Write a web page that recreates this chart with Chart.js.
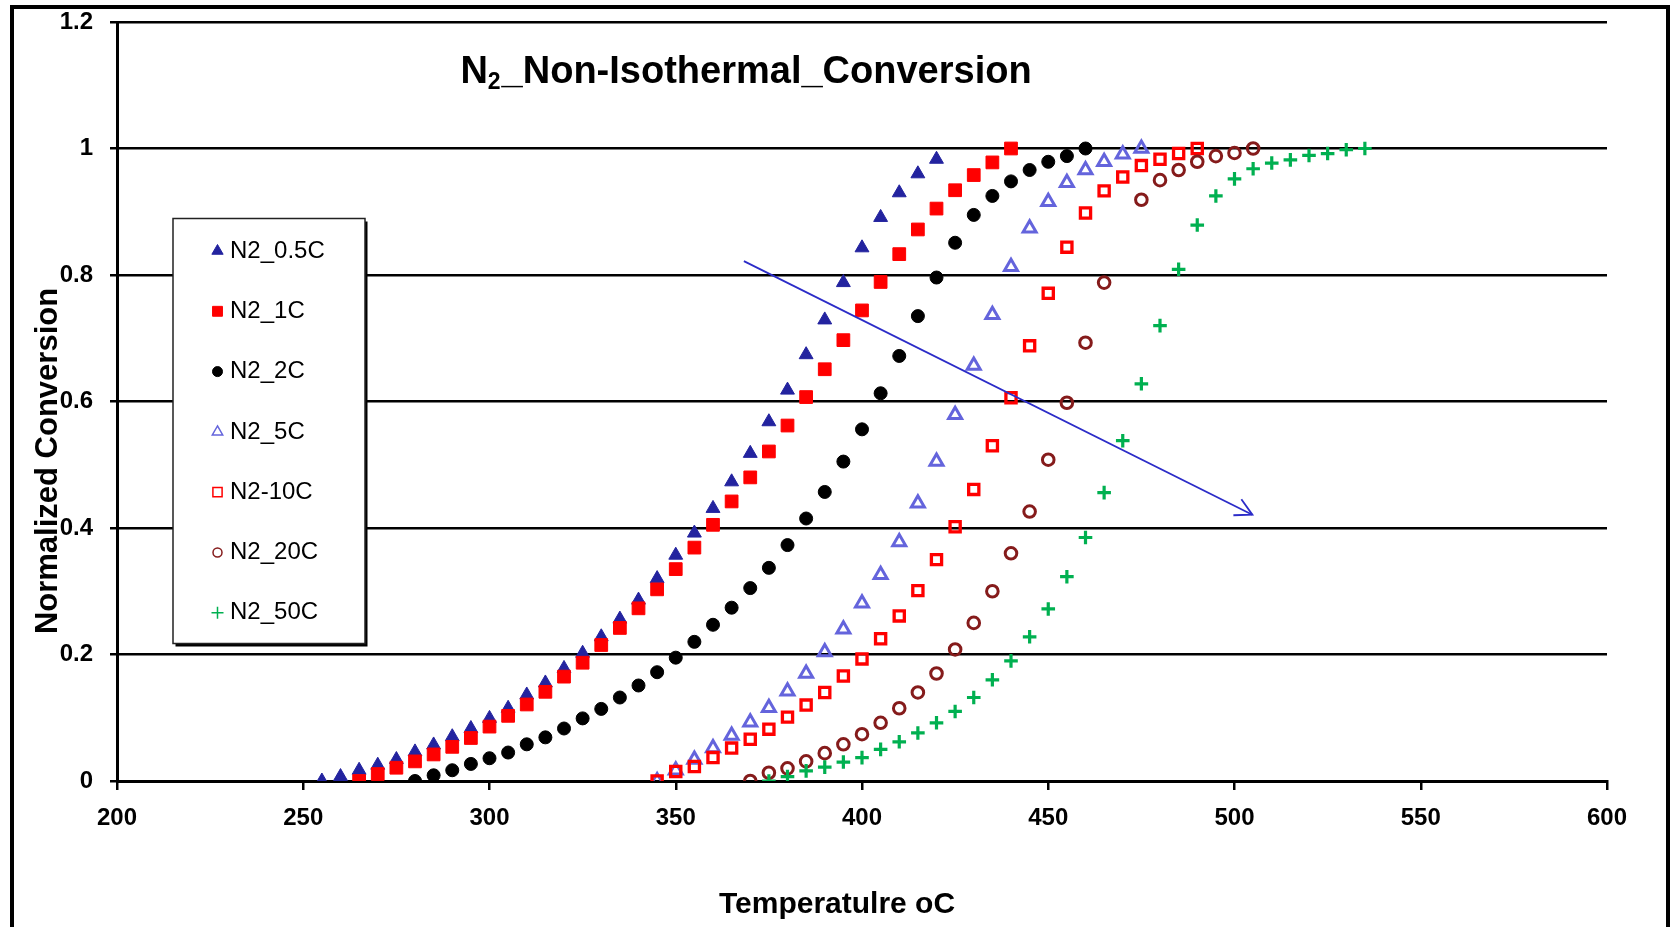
<!DOCTYPE html>
<html>
<head>
<meta charset="utf-8">
<script src="https://cdn.jsdelivr.net/npm/chart.js@4/dist/chart.umd.min.js"></script>
<style>
  html, body { margin: 0; padding: 0; background: #ffffff; }
  canvas { display: block; }
</style>
</head>
<body>
<canvas id="c" width="1671" height="927" style="width:1671px;height:927px"></canvas>
<script>
// ---------------- DATA ----------------
const seriesNames = ['N2_0.5C', 'N2_1C', 'N2_2C', 'N2_5C', 'N2-10C', 'N2_20C', 'N2_50C'];

const temp05 = [255,260,265,270,275,280,285,290,295,300,305,310,315,320,325,330,335,340,345,350,355,360,365,370,375,380,385,390,395,400,405,410,415,420];
const conv05 = [0.000,0.007,0.017,0.025,0.034,0.046,0.057,0.070,0.083,0.099,0.115,0.136,0.155,0.178,0.202,0.228,0.256,0.286,0.320,0.357,0.392,0.431,0.473,0.518,0.568,0.618,0.674,0.729,0.788,0.843,0.891,0.930,0.960,0.983];

const temp1 = [265,270,275,280,285,290,295,300,305,310,315,320,325,330,335,340,345,350,355,360,365,370,375,380,385,390,395,400,405,410,415,420,425,430,435,440];
const conv1 = [0.000,0.011,0.021,0.031,0.042,0.054,0.068,0.086,0.103,0.121,0.141,0.165,0.187,0.215,0.242,0.273,0.303,0.335,0.369,0.405,0.442,0.480,0.521,0.562,0.607,0.651,0.697,0.744,0.789,0.833,0.872,0.905,0.934,0.958,0.978,1.000];

const temp2 = [280,285,290,295,300,305,310,315,320,325,330,335,340,345,350,355,360,365,370,375,380,385,390,395,400,405,410,415,420,425,430,435,440,445,450,455,460];
const conv2 = [0.000,0.009,0.017,0.027,0.036,0.045,0.058,0.069,0.083,0.099,0.114,0.132,0.151,0.172,0.195,0.220,0.247,0.274,0.305,0.337,0.373,0.415,0.457,0.505,0.556,0.613,0.672,0.735,0.796,0.851,0.895,0.925,0.948,0.966,0.979,0.988,1.000];

const temp5 = [345,350,355,360,365,370,375,380,385,390,395,400,405,410,415,420,425,430,435,440,445,450,455,460,465,470,475];
const conv5 = [0.000,0.017,0.034,0.052,0.072,0.093,0.116,0.142,0.170,0.204,0.240,0.281,0.326,0.378,0.439,0.505,0.579,0.657,0.737,0.813,0.874,0.916,0.946,0.966,0.979,0.991,1.000];

const temp10 = [345,350,355,360,365,370,375,380,385,390,395,400,405,410,415,420,425,430,435,440,445,450,455,460,465,470,475,480,485,490];
const conv10 = [0.000,0.015,0.023,0.037,0.052,0.066,0.082,0.101,0.120,0.140,0.166,0.193,0.225,0.261,0.301,0.350,0.402,0.461,0.530,0.606,0.688,0.771,0.844,0.898,0.933,0.955,0.973,0.983,0.992,1.000];

const temp20 = [370,375,380,385,390,395,400,405,410,415,420,425,430,435,440,445,450,455,460,465,475,480,485,490,495,500,505];
const conv20 = [0.000,0.013,0.020,0.031,0.044,0.058,0.074,0.092,0.115,0.140,0.170,0.208,0.250,0.300,0.360,0.426,0.508,0.598,0.693,0.788,0.919,0.950,0.966,0.979,0.988,0.993,1.000];

const temp50 = [375,380,385,390,395,400,405,410,415,420,425,430,435,440,445,450,455,460,465,470,475,480,485,490,495,500,505,510,515,520,525,530,535];
const conv50 = [0.000,0.007,0.016,0.022,0.030,0.037,0.050,0.062,0.076,0.092,0.110,0.132,0.160,0.190,0.228,0.272,0.323,0.385,0.456,0.538,0.628,0.720,0.809,0.879,0.925,0.952,0.968,0.977,0.982,0.989,0.992,0.998,1.000];

// annotation arrow (temperature, conversion)
const arrowTemp = [368.3, 504.8];
const arrowConv = [0.822, 0.421];

const yTickLabels = ['0', '0.2', '0.4', '0.6', '0.8', '1', '1.2'];
const xTickLabels = ['200', '250', '300', '350', '400', '450', '500', '550', '600'];

const titleMain = 'N';
const titleSub = '2';
const titleRest = '_Non-Isothermal_Conversion';
const xTitle = 'Temperatulre oC';
const yTitle = 'Normalized Conversion';

// ---------------- BUILD ----------------
function pts(xs, ys) { return xs.map((x, i) => ({ x: x, y: ys[i] })); }

const COL_NAVY = '#23239f';
const COL_RED = '#ff0000';
const COL_BLACK = '#000000';
const COL_LBLUE = '#6464dc';
const COL_MAROON = '#851b1b';
const COL_GREEN = '#00b050';
const COL_ARROW = '#2c2cc8';

const styles = [
  { ps: 'triangle', r: 8, bg: COL_NAVY, bc: COL_NAVY, bw: 1, lr: 6.5, lbw: 1 },
  { ps: 'rect', r: 9, bg: COL_RED, bc: COL_RED, bw: 1, lr: 7, lbw: 1 },
  { ps: 'circle', r: 6.5, bg: COL_BLACK, bc: COL_BLACK, bw: 1, lr: 5, lbw: 1 },
  { ps: 'triangle', r: 7.5, bg: 'rgba(0,0,0,0)', bc: COL_LBLUE, bw: 3, lr: 6, lbw: 1.5 },
  { ps: 'rect', r: 7.2, bg: 'rgba(0,0,0,0)', bc: COL_RED, bw: 3.3, lr: 6.5, lbw: 1.5 },
  { ps: 'circle', r: 5.8, bg: 'rgba(0,0,0,0)', bc: COL_MAROON, bw: 3, lr: 4.5, lbw: 1.5 },
  { ps: 'cross', r: 6.8, bg: COL_GREEN, bc: COL_GREEN, bw: 3.2, lr: 6, lbw: 1.5 }
];

const allTemps = [temp05, temp1, temp2, temp5, temp10, temp20, temp50];
const allConvs = [conv05, conv1, conv2, conv5, conv10, conv20, conv50];

const datasets = seriesNames.map((name, i) => ({
  label: name,
  data: pts(allTemps[i], allConvs[i]),
  showLine: false,
  pointStyle: styles[i].ps,
  pointRadius: styles[i].r,
  pointHoverRadius: styles[i].r,
  pointBackgroundColor: styles[i].bg,
  pointBorderColor: styles[i].bc,
  pointBorderWidth: styles[i].bw,
  backgroundColor: styles[i].bg,
  borderColor: styles[i].bc,
  order: 10 - i
}));

datasets.push({
  label: '_arrow',
  data: pts(arrowTemp, arrowConv),
  showLine: true,
  borderColor: COL_ARROW,
  borderWidth: 1.8,
  pointRadius: 0,
  fill: false,
  order: 0
});

const FONT = "'Liberation Sans', Arial, Helvetica, sans-serif";

function drawMarker(c, st, x, y, r, bw) {
  c.save();
  c.fillStyle = st.bg;
  c.strokeStyle = st.bc;
  c.lineWidth = bw;
  if (Chart.helpers && Chart.helpers.drawPoint) {
    Chart.helpers.drawPoint(c, { pointStyle: st.ps, radius: r, rotation: 0, borderWidth: bw }, x, y);
  } else {
    c.beginPath();
    if (st.ps === 'circle') c.arc(x, y, r, 0, Math.PI * 2);
    else if (st.ps === 'rect') { const s = r * Math.SQRT1_2; c.rect(x - s, y - s, 2 * s, 2 * s); }
    else if (st.ps === 'triangle') { c.moveTo(x, y - r); c.lineTo(x + r * 0.866, y + r / 2); c.lineTo(x - r * 0.866, y + r / 2); c.closePath(); }
    else if (st.ps === 'cross') { c.moveTo(x - r, y); c.lineTo(x + r, y); c.moveTo(x, y - r); c.lineTo(x, y + r); }
    c.fill(); c.stroke();
  }
  c.restore();
}

const decorPlugin = {
  id: 'decor',
  beforeDraw(chart) {
    const c = chart.ctx;
    c.save();
    c.fillStyle = '#ffffff';
    c.fillRect(0, 0, chart.width, chart.height);
    c.restore();
  },
  afterDatasetsDraw(chart) {
    const c = chart.ctx;
    // arrow head
    const meta = chart.getDatasetMeta(datasets.length - 1);
    const p0 = meta.data[0], p1 = meta.data[1];
    const ang = Math.atan2(p1.y - p0.y, p1.x - p0.x);
    const L = 19, spread = 0.49;
    c.save();
    c.strokeStyle = COL_ARROW;
    c.lineWidth = 1.8;
    c.beginPath();
    c.moveTo(p1.x - L * Math.cos(ang - spread), p1.y - L * Math.sin(ang - spread));
    c.lineTo(p1.x, p1.y);
    c.lineTo(p1.x - L * Math.cos(ang + spread), p1.y - L * Math.sin(ang + spread));
    c.stroke();
    c.restore();

    // legend box
    const BL = 173, BT = 218.5, BR = 365, BB = 643.5;
    c.save();
    c.fillStyle = '#000';
    c.fillRect(BL + 2.5, BT + 3, BR - BL, BB - BT);
    c.fillStyle = '#fff';
    c.fillRect(BL, BT, BR - BL, BB - BT);
    c.strokeStyle = '#222';
    c.lineWidth = 1.5;
    c.strokeRect(BL, BT, BR - BL, BB - BT);
    c.font = '24px ' + FONT;
    c.textBaseline = 'middle';
    c.textAlign = 'left';
    for (let i = 0; i < seriesNames.length; i++) {
      const y = 250 + i * 60.3;
      drawMarker(c, styles[i], 217.5, y + 1, styles[i].lr, styles[i].lbw);
      c.fillStyle = '#000';
      c.fillText(seriesNames[i], 230, y + 1);
    }
    c.restore();
  },
  afterDraw(chart) {
    const c = chart.ctx;
    c.save();
    // main title with subscript
    c.fillStyle = '#000';
    c.textBaseline = 'alphabetic';
    c.textAlign = 'left';
    const fMain = 'bold 38px ' + FONT;
    const fSub = 'bold 23px ' + FONT;
    c.font = fMain;
    const wN = c.measureText(titleMain).width;
    const wR = c.measureText(titleRest).width;
    c.font = fSub;
    const wS = c.measureText(titleSub).width;
    const total = wN + wS + 1 + wR;
    let x = 746 - total / 2;
    const base = 83;
    c.font = fMain;
    c.fillText(titleMain, x, base);
    x += wN;
    c.font = fSub;
    c.fillText(titleSub, x, base + 6);
    x += wS + 1;
    c.font = fMain;
    c.fillText(titleRest, x, base);

    // x axis title
    c.font = 'bold 30px ' + FONT;
    c.textAlign = 'center';
    c.fillText(xTitle, 837, 913);

    // y axis title
    c.save();
    c.translate(57, 461);
    c.rotate(-Math.PI / 2);
    c.font = 'bold 31px ' + FONT;
    c.textAlign = 'center';
    c.fillText(yTitle, 0, 0);
    c.restore();

    // outer frame
    c.strokeStyle = '#000';
    c.lineWidth = 4;
    c.strokeRect(12, 7, 1656, 1000);
    c.restore();
  }
};

const tickFont = { family: FONT, size: 24, weight: 'bold' };

new Chart(document.getElementById('c'), {
  type: 'scatter',
  data: { datasets: datasets },
  plugins: [decorPlugin],
  options: {
    responsive: false,
    animation: false,
    events: [],
    layout: { padding: { left: 0, top: 22, right: 64, bottom: 0 } },
    plugins: {
      legend: { display: false },
      tooltip: { enabled: false },
      title: { display: false }
    },
    scales: {
      x: {
        type: 'linear',
        min: 200,
        max: 600,
        ticks: {
          stepSize: 50,
          font: tickFont,
          color: '#000',
          padding: 14,
          maxRotation: 0,
          callback: function (v) { const i = Math.round((v - 200) / 50); return xTickLabels[i] !== undefined ? xTickLabels[i] : ''; }
        },
        grid: { drawOnChartArea: false, drawTicks: true, tickLength: 9, color: '#000', lineWidth: 2.5 },
        border: { display: true, color: '#000', width: 3 },
        afterFit: function (s) { s.height = 146; s.paddingLeft = 0; s.paddingRight = 0; }
      },
      y: {
        type: 'linear',
        min: 0,
        max: 1.2,
        ticks: {
          stepSize: 0.2,
          font: tickFont,
          color: '#000',
          padding: 17,
          callback: function (v) { const i = Math.round(v / 0.2); return yTickLabels[i] !== undefined ? yTickLabels[i] : ''; }
        },
        grid: { drawOnChartArea: true, drawTicks: true, tickLength: 7, color: '#000', lineWidth: 2.5 },
        border: { display: true, color: '#000', width: 3 },
        afterFit: function (s) { s.width = 117; s.paddingTop = 0; s.paddingBottom = 0; }
      }
    }
  }
});
</script>
</body>
</html>
